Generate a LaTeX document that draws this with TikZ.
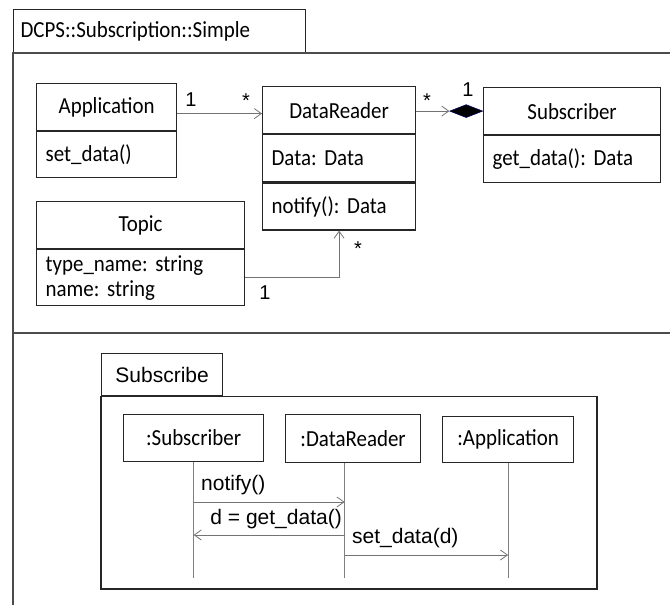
\documentclass[tikz,border=0pt]{standalone}
\usepackage{fontspec}
\setmainfont{Carlito}[FakeStretch=0.91]
\newfontfamily\arialfont{Liberation Sans}
\usetikzlibrary{shapes.geometric,arrows.meta}

\tikzset{
  box/.style={draw=black!85,line width=1.2pt,inner sep=0pt,anchor=north west,font=\fontsize{23}{25}\selectfont},
  comp/.style={box,align=left,inner xsep=9pt},
  frame/.style={draw=black!70,line width=1.3pt},
  assoc/.style={draw=black!55,line width=0.8pt,->},
  mult/.style={anchor=base,inner sep=0pt,font=\arialfont\fontsize{20}{20}\selectfont},
  lifeline/.style={draw=black!50,line width=0.8pt},
  msg/.style={draw=black!55,line width=0.8pt,->},
  msgtext/.style={inner sep=0pt,font=\arialfont\fontsize{21}{21}\selectfont}
}

\begin{document}
\frenchspacing
\begin{tikzpicture}[x=1pt,y=-1pt,>={Straight Barb[length=7pt,width=10pt]}]
        \useasboundingbox (0,0) rectangle (670,605);

          \node[box,text width=278pt,align=left,inner xsep=7pt,minimum height=44pt] (pkgtab) at (13,9) {DCPS::Subscription::Simple};
          \draw[frame] (13,605) |- (670,53);
          \draw[frame] (13,333) -- (670,333);

          \node[box,minimum width=140pt,minimum height=47pt] (appt) at (36,83) {Application};
          \node[comp,text width=122pt,minimum height=46pt] (appo) at (appt.south west) {set\_data()};

          \node[box,minimum width=153pt,minimum height=47pt] (drt) at (262,86) {DataReader};
          \node[comp,text width=135pt,minimum height=47pt] (dra) at (drt.south west) {Data: Data};
          \node[comp,text width=135pt,minimum height=47pt] (drm) at (dra.south west) {notify(): Data};

          \node[box,minimum width=177pt,minimum height=47pt] (subt) at (483,87) {Subscriber};
          \node[comp,text width=159pt,minimum height=47pt] (subo) at (subt.south west) {get\_data(): Data};

          \node[box,minimum width=208pt,minimum height=47pt] (topt) at (36,201) {Topic};
          \node[comp,text width=190pt,minimum height=56pt] (topa) at (topt.south west) {type\_name: string\\name: string};

          \node[diamond,draw=blue!35!black,fill=black,line width=0.6pt,inner sep=0pt,
                minimum width=33pt,minimum height=13pt,anchor=east] (compo) at (subt.west) {};

          \draw[assoc] ([yshift=-6.5pt]appt.east) -- ([yshift=-6.5pt]appt.east -| drt.west);
          \draw[assoc] (drt.east |- compo.west) -- (compo.west);
          \draw[assoc] (topa.east) -| (drm.south);

          \node[mult] (m1) at (191,106.5) {1};
          \node[mult] (m2) at (246,107) {*};
          \node[mult] (m3) at (427,107) {*};
          \node[mult] (m4) at (468,96.5) {1};
          \node[mult] (m5) at (358,255) {*};
          \node[mult] (m6) at (265,299.5) {1};

          \node[box,font=\arialfont\fontsize{21}{21}\selectfont,minimum width=121pt,minimum height=42pt] (seqtab) at (101,353) {Subscribe};
          \draw[box] (seqtab.south west) rectangle (597,589);

          \node[box,minimum width=140pt,minimum height=47pt] (lsub) at (123,414) {:Subscriber};
          \node[box,minimum width=135pt,minimum height=48pt] (ldr) at (285,414) {:DataReader};
          \node[box,minimum width=131pt,minimum height=46pt] (lapp) at (442,416) {:Application};

          \coordinate (tsub) at (lsub.south);
          \coordinate (tdr) at ([xshift=-8.5pt]ldr.south);
          \coordinate (tapp) at (lapp.south);
          \foreach \l in {sub,dr,app}{
            \draw[lifeline] (t\l) -- (t\l |- 0,578);
          }

          \draw[msg] (tsub |- 0,502) -- (tdr |- 0,502);
          \draw[msg] (tdr |- 0,535) -- (tsub |- 0,535);
          \draw[msg] (tdr |- 0,555) -- (tapp |- 0,555);

          \node[msgtext,anchor=west] (lnotify) at (201,485) {notify()};
          \node[msgtext,anchor=east] (lget) at (342,519) {d = get\_data()};
          \node[msgtext,anchor=west] (lset) at (352,538) {set\_data(d)};
        \end{tikzpicture}
\end{document}
